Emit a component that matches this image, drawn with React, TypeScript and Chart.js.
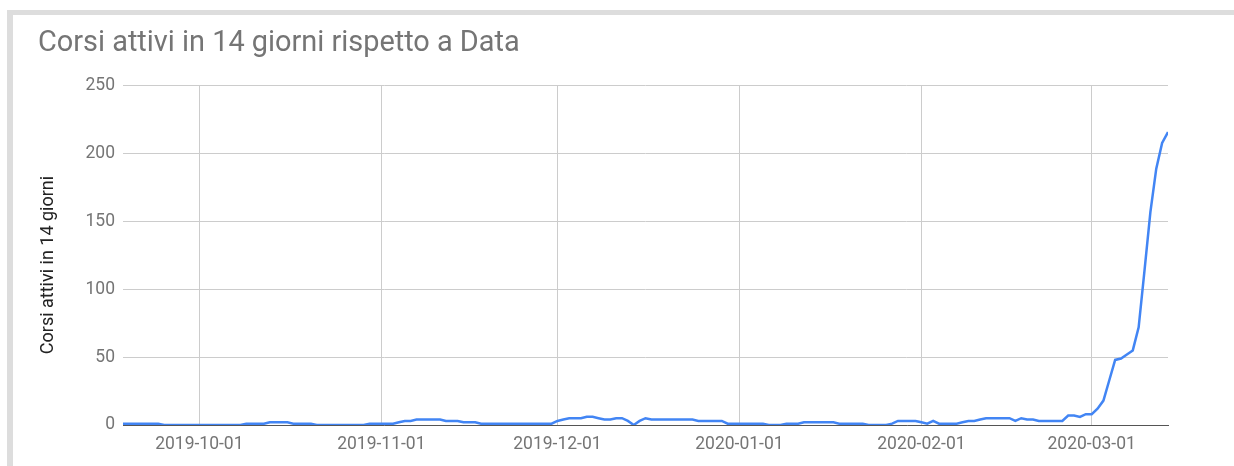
import React, { useEffect, useRef } from "react";
import { Chart, registerables } from "chart.js";

Chart.register(...registerables);

const TITLE = "Corsi attivi in 14 giorni rispetto a Data";
const Y_TITLE = "Corsi attivi in 14 giorni";
const START_DATE = "2019-09-18";
const X_TICK_LABELS = ["2019-10-01", "2019-11-01", "2019-12-01", "2020-01-01", "2020-02-01", "2020-03-01"];
const Y_TICKS = [0, 50, 100, 150, 200, 250];

// daily values from 2019-09-18 to 2020-03-14
const VALUES = [
  1, 1, 1, 1, 1, 1, 1,
  0, 0, 0, 0, 0, 0, 0, 0, 0, 0, 0, 0, 0, 0,
  1, 1, 1, 1,
  2, 2, 2, 2,
  1, 1, 1, 1,
  0, 0, 0, 0, 0, 0, 0, 0, 0,
  1, 1, 1, 1, 1,
  2,
  3, 3,
  4, 4, 4, 4, 4,
  3, 3, 3,
  2, 2, 2,
  1, 1, 1, 1, 1, 1, 1, 1, 1, 1, 1, 1, 1,
  3, 4, 5, 5, 5, 6, 6, 5, 4, 4, 5, 5, 3, 0, 3, 5,
  4, 4, 4, 4, 4, 4, 4, 4,
  3, 3, 3, 3, 3,
  1, 1, 1, 1, 1, 1, 1,
  0, 0, 0,
  1, 1, 1,
  2, 2, 2, 2, 2, 2,
  1, 1, 1, 1, 1,
  0, 0, 0, 0,
  1,
  3, 3, 3, 3,
  2, 1, 3,
  1, 1, 1, 1,
  2, 3, 3, 4,
  5, 5, 5, 5, 5,
  3, 5, 4, 4,
  3, 3, 3, 3, 3,
  7, 7, 6, 8, 8, 12, 18, 33, 48, 49, 52, 55, 72, 114, 157, 189, 208, 216,
];

const DAY_MS = 86400000;
const dayIndex = (d: string) =>
  Math.round((Date.parse(d + "T00:00:00Z") - Date.parse(START_DATE + "T00:00:00Z")) / DAY_MS);
const X_TICK_POS = X_TICK_LABELS.map(dayIndex);

const FONT = "Roboto";

const yTitlePlugin = {
  id: "yTitlePlugin",
  afterDraw(chart: any) {
    const ctx = chart.ctx;
    ctx.save();
    ctx.translate(48, 265);
    ctx.rotate(-Math.PI / 2);
    ctx.font = `18px ${FONT}`;
    ctx.fillStyle = "#222222";
    ctx.textAlign = "center";
    ctx.textBaseline = "middle";
    ctx.fillText(Y_TITLE, 0, 0);
    ctx.restore();
  },
};

export default function App() {
  const ref = useRef<HTMLCanvasElement | null>(null);

  useEffect(() => {
    if (!ref.current) return;
    const data = VALUES.map((v, i) => ({ x: i, y: v }));
    const chart = new Chart(ref.current, {
      type: "line",
      data: {
        datasets: [
          {
            data,
            borderColor: "#4285f4",
            borderWidth: 2.5,
            pointRadius: 0,
            tension: 0,
            fill: false,
          },
        ],
      },
      options: {
        animation: false,
        responsive: false,
        maintainAspectRatio: false,
        layout: { padding: { top: 0, left: 38, right: 66, bottom: 0 } },
        plugins: {
          legend: { display: false },
          tooltip: { enabled: false },
          title: {
            display: true,
            text: TITLE,
            align: "start",
            color: "#757575",
            font: { family: FONT, size: 28.9, weight: "normal" },
            padding: { top: 26, bottom: 25.3 },
          },
        },
        scales: {
          x: {
            type: "linear",
            min: 0,
            max: VALUES.length - 1,
            afterBuildTicks: (scale: any) => {
              scale.ticks = X_TICK_POS.map((v) => ({ value: v }));
            },
            afterFit: (scale: any) => {
              scale.height = 41;
            },
            ticks: {
              autoSkip: false,
              maxRotation: 0,
              padding: 9,
              color: "#757575",
              font: { family: FONT, size: 17.5 },
              callback: (v: any) => {
                const i = X_TICK_POS.indexOf(Number(v));
                return i >= 0 ? X_TICK_LABELS[i] : "";
              },
            },
            grid: { color: "#cccccc", drawTicks: false, lineWidth: 1 },
            border: { display: true, color: "#555555", width: 1 },
          },
          y: {
            min: 0,
            max: 250,
            afterBuildTicks: (scale: any) => {
              scale.ticks = Y_TICKS.map((v) => ({ value: v }));
            },
            afterFit: (scale: any) => {
              scale.width = 85;
            },
            ticks: {
              padding: 8,
              color: "#757575",
              font: { family: FONT, size: 17.5 },
            },
            grid: { color: "#cccccc", drawTicks: false, lineWidth: 1 },
            border: { display: false },
          },
        },
      },
      plugins: [yTitlePlugin],
    } as any);
    return () => chart.destroy();
  }, []);

  return (
    <div style={{ position: "relative", width: 1234, height: 466, overflow: "hidden", background: "#ffffff" }}>
      <style>{`body{margin:0;}`}</style>
      <div style={{ position: "absolute", left: 7, top: 10, width: 1227, height: 5, background: "#dddddd" }} />
      <div style={{ position: "absolute", left: 7, top: 10, width: 6, height: 456, background: "#dddddd" }} />
      <canvas ref={ref} width={1234} height={466} style={{ position: "absolute", left: 0, top: 0, width: 1234, height: 466 }} />
    </div>
  );
}
